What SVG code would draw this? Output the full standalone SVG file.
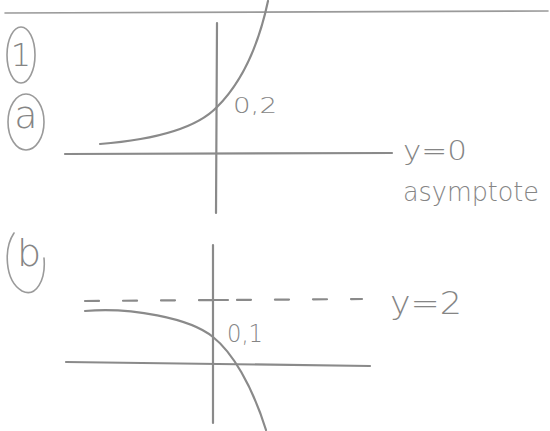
<svg xmlns="http://www.w3.org/2000/svg" width="550" height="431" viewBox="0 0 550 431">
<style>
.ln{fill:none;stroke:#8a8a8a;stroke-width:2.2;stroke-linecap:round;stroke-linejoin:round}
.thin{fill:none;stroke:#9a9a9a;stroke-width:1.6;stroke-linecap:round}
.t{font-family:"DejaVu Sans","Liberation Sans",sans-serif;fill:#858585;font-weight:200}
</style>
<rect width="550" height="431" fill="#ffffff"/>
<line class="thin" x1="5" y1="13" x2="548" y2="11"/>
<g id="label-1">
<ellipse class="thin" cx="21" cy="55" rx="14" ry="28"/>
<text class="t" x="21" y="66" font-size="32" text-anchor="middle">1</text>
</g>
<g id="label-a">
<ellipse class="thin" cx="26" cy="122" rx="18" ry="28"/>
<text class="t" x="26" y="128" font-size="38" text-anchor="middle">a</text>
</g>
<g id="label-b">
<path class="thin" d="M14,233 C4,248 4,280 22,291 C36,298 46,280 44,258"/>
<text class="t" x="29" y="266" font-size="38" text-anchor="middle">b</text>
</g>
<g id="graph-a">
<line class="ln" x1="217" y1="23" x2="216" y2="213"/>
<line class="ln" x1="65" y1="154" x2="392" y2="153"/>
<path class="ln" d="M100,144 C150,140 195,130 217,107 C240,84 258,48 268,1"/>
<text class="t" x="233" y="113" font-size="22" textLength="44" lengthAdjust="spacingAndGlyphs">0,2</text>
<text class="t" x="403" y="160" font-size="26" textLength="64" lengthAdjust="spacingAndGlyphs">y=0</text>
<text class="t" x="403" y="201" font-size="26" textLength="136" lengthAdjust="spacingAndGlyphs">asymptote</text>
</g>
<g id="graph-b">
<line class="ln" x1="213" y1="245" x2="213" y2="423"/>
<line class="ln" x1="66" y1="362" x2="370" y2="366"/>
<line class="ln" x1="85" y1="301" x2="362" y2="299" stroke-dasharray="14,24"/>
<line class="ln" x1="203" y1="300" x2="228" y2="300"/>
<path class="ln" d="M85,311 C130,307 190,318 213,337 C232,352 252,385 266,430"/>
<text class="t" x="227" y="342" font-size="24" textLength="36" lengthAdjust="spacingAndGlyphs">0,1</text>
<text class="t" x="390" y="314" font-size="32" textLength="72" lengthAdjust="spacingAndGlyphs">y=2</text>
</g>
</svg>
